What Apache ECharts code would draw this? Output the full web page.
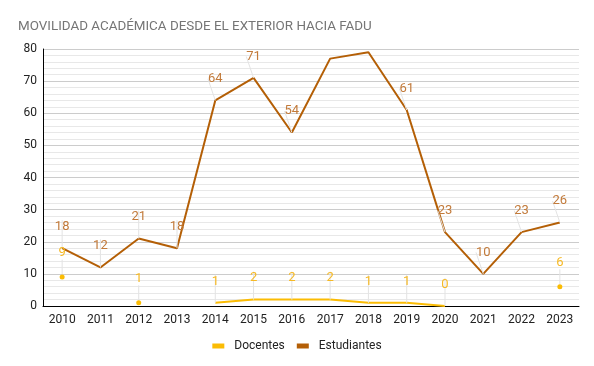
<!DOCTYPE html>
<html><head><meta charset="utf-8">
<script src="https://cdn.jsdelivr.net/npm/echarts@6/dist/echarts.min.js"></script>
<style>html,body{margin:0;padding:0;background:#fff}#c{width:594px;height:366px}</style>
</head><body><div id="c"></div>
<script>
const years = ['2010','2011','2012','2013','2014','2015','2016','2017','2018','2019','2020','2021','2022','2023'];
const docentes = [9, null, 1, null, 1, 2, 2, 2, 1, 1, 0, null, null, 6];
const estudiantes = [18, 12, 21, 18, 64, 71, 54, 77, 79, 61, 23, 10, 23, 26];
const estudiantesHiddenLabelYears = ['2017', '2018'];
const yTicks = [0, 10, 20, 30, 40, 50, 60, 70, 80];

function isolated(arr, i) {
  return arr[i] != null && (i === 0 || arr[i-1] == null) && (i === arr.length-1 || arr[i+1] == null);
}
function buildData(arr, hidden) {
  return arr.map((v, i) => ({
    value: v,
    symbolSize: isolated(arr, i) ? 5 : 0,
    label: { show: v != null && hidden.indexOf(years[i]) < 0 }
  }));
}
const font = 'Roboto, Arial, sans-serif';
const chart = echarts.init(document.getElementById('c'), null, {renderer: 'canvas'});
function series(name, arr, hidden, color, labelColor) {
  return {
    name, type: 'line', data: buildData(arr, hidden), connectNulls: false,
    showSymbol: true, symbol: 'circle',
    lineStyle: { color, width: 2 }, itemStyle: { color },
    label: { position: 'top', distance: 5, color: labelColor, fontFamily: font, fontSize: 13 },
    labelLayout: { dy: -10, hideOverlap: false },
    labelLine: { show: true, lineStyle: { color: '#e3e3e3', width: 1 } },
    emphasis: { disabled: true }, animation: false
  };
}
chart.setOption({
  animation: false,
  title: { text: 'MOVILIDAD ACADÉMICA DESDE EL EXTERIOR HACIA FADU', left: 13, top: 15,
    textStyle: { fontFamily: font, fontSize: 13.4, fontWeight: 'normal', color: '#757575' } },
  grid: { left: 43, right: 15, top: 49, bottom: 60 },
  legend: { bottom: 9, left: 'center', itemWidth: 12, itemHeight: 5, itemGap: 12, icon: 'rect',
    textStyle: { fontFamily: font, fontSize: 12, color: '#222', padding: [0, 0, 0, 5] },
    data: ['Docentes', 'Estudiantes'] },
  xAxis: { type: 'category', data: years, boundaryGap: true,
    axisLine: { lineStyle: { color: '#000', width: 1 } },
    axisTick: { alignWithLabel: true, length: 5, lineStyle: { color: '#000' } },
    axisLabel: { color: '#222', fontFamily: font, fontSize: 12, margin: 8, interval: 0 },
    splitLine: { show: false } },
  yAxis: { type: 'value', min: yTicks[0], max: yTicks[yTicks.length-1], interval: 10,
    axisLine: { show: true, lineStyle: { color: '#000', width: 1 } },
    axisTick: { show: false },
    axisLabel: { color: '#222', fontFamily: font, fontSize: 12, margin: 6 },
    splitLine: { lineStyle: { color: '#cccccc' } },
    minorTick: { show: false, splitNumber: 5 },
    minorSplitLine: { show: true, lineStyle: { color: '#e8e8e8' } } },
  series: [
    series('Docentes', docentes, [], '#fbbc04', '#f6b925'),
    series('Estudiantes', estudiantes, estudiantesHiddenLabelYears, '#b45f06', '#c27a3a')
  ]
});
</script></body></html>
